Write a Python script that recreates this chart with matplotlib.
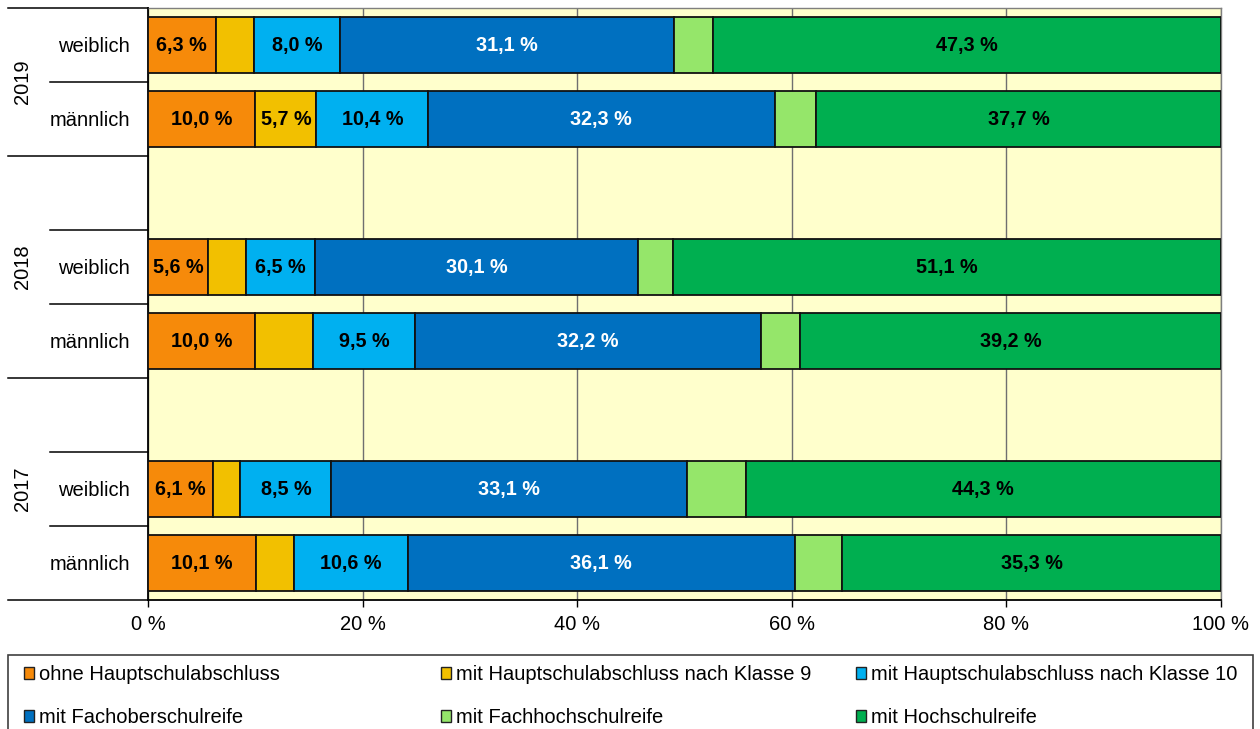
import matplotlib
matplotlib.use("Agg")
import matplotlib.pyplot as plt
import matplotlib.transforms as mtransforms
from matplotlib.patches import Patch, Rectangle
import numpy as np

plt.rcParams['font.family'] = ['Liberation Sans', 'DejaVu Sans']

# ---------------- data ----------------
rows = ["2019 weiblich", "2019 männlich", "", "2018 weiblich", "2018 männlich",
        "", "2017 weiblich", "2017 männlich"]          # top -> bottom
row_labels = ["weiblich", "männlich", "", "weiblich", "männlich", "", "weiblich", "männlich"]
years = ["2019", "2018", "2017"]

series_names = ["ohne Hauptschulabschluss",
                "mit Hauptschulabschluss nach Klasse 9",
                "mit Hauptschulabschluss nach Klasse 10",
                "mit Fachoberschulreife",
                "mit Fachhochschulreife",
                "mit Hochschulreife"]

# values per row (top -> bottom), None = empty spacer row
ohne_hs   = [6.3, 10.0, None, 5.6, 10.0, None, 6.1, 10.1]
hs_kl9    = [3.6, 5.7, None, 3.5, 5.4, None, 2.5, 3.5]
hs_kl10   = [8.0, 10.4, None, 6.5, 9.5, None, 8.5, 10.6]
fosr      = [31.1, 32.3, None, 30.1, 32.2, None, 33.1, 36.1]
fhr       = [3.7, 3.9, None, 3.2, 3.7, None, 5.5, 4.4]
hsr       = [47.3, 37.7, None, 51.1, 39.2, None, 44.3, 35.3]

series = [ohne_hs, hs_kl9, hs_kl10, fosr, fhr, hsr]
colors = ["#F68A0A", "#F2C000", "#00B0F0", "#0070C0", "#95E66A", "#00AF50"]
label_colors = ["black", "black", "black", "white", "black", "black"]
show_labels = [True, True, True, True, False, True]
label_min = 5.5

# ---------------- figure ----------------
W, H = 1260, 729
fig = plt.figure(figsize=(W / 100, H / 100), dpi=100)
L, R, T, B = 148, 1221, 8, 600
ax = fig.add_axes([L / W, 1 - B / H, (R - L) / W, (B - T) / H])
ax.set_facecolor("#FFFFCC")

n = len(rows)
ypos = np.arange(n)[::-1]  # top row has highest y
bar_h = 0.76

left = np.zeros(n)
for s, vals in enumerate(series):
    v = np.array([np.nan if x is None else x for x in vals], dtype=float)
    mask = ~np.isnan(v)
    ax.barh(ypos[mask], v[mask], left=left[mask], height=bar_h, color=colors[s],
            edgecolor="#111111", linewidth=1.3, zorder=3)
    for i in np.where(mask)[0]:
        if show_labels[s] and v[i] > label_min:
            ax.text(left[i] + v[i] / 2, ypos[i], f"{v[i]:.1f} %".replace(".", ","),
                    ha="center", va="center", fontsize=14.2, fontweight="bold",
                    color=label_colors[s], zorder=4)
    left[mask] += v[mask]

ax.set_xlim(0, 100)
ax.set_ylim(-0.5, n - 0.5)
ax.set_xticks(np.arange(0, 101, 20))
ax.set_xticklabels([f"{t} %" for t in range(0, 101, 20)], fontsize=14.5)
ax.tick_params(axis="x", direction="out", length=5, width=1, color="black", pad=6)

data_rows = [i for i, r in enumerate(rows) if r]
ax.set_yticks(ypos[data_rows])
ax.set_yticklabels([row_labels[i] for i in data_rows], fontsize=14.5)
ax.tick_params(axis="y", length=0, pad=13)

ax.grid(axis="x", color="#6f6f6f", linewidth=1, zorder=1)
ax.set_axisbelow(True)
for side in ["top", "right"]:
    ax.spines[side].set_color("#7f7f7f")
    ax.spines[side].set_linewidth(1)
ax.spines["left"].set_color("black")
ax.spines["left"].set_linewidth(1.3)
ax.spines["bottom"].set_color("black")
ax.spines["bottom"].set_linewidth(1.3)

# multi-level category separators
trans = mtransforms.blended_transform_factory(ax.transAxes, ax.transData)
long_x = (8 - L) / (R - L)
short_x = (50 - L) / (R - L)
boundaries = np.arange(-0.5, n, 1.0)
long_bounds = [n - 0.5, n - 2.5, n - 5.5, -0.5]
for b in boundaries:
    x0 = long_x if any(abs(b - lb) < 1e-6 for lb in long_bounds) else short_x
    ax.plot([x0, 0], [b, b], transform=trans, color="black", linewidth=1.1,
            clip_on=False, zorder=5)

# year labels
year_centers = [(long_bounds[0] + long_bounds[1]) / 2,
                (long_bounds[1] + long_bounds[2]) / 2,
                (long_bounds[2] + long_bounds[3]) / 2]
for yr, yc in zip(years, year_centers):
    ax.text((22 - L) / (R - L), yc, yr, transform=trans, rotation=90,
            ha="center", va="center", fontsize=14.5)

# legend frame
fig.patches.append(Rectangle((8 / W, -0.02), (1253 - 8) / W, 0.02 + 1 - 655 / H,
                             transform=fig.transFigure, fill=False,
                             edgecolor="#404040", linewidth=1.2))

handles = [Patch(facecolor=c, edgecolor="#222222", linewidth=1.0) for c in colors]
col_x = [24, 441, 856]
for c in range(3):
    idx = [c, c + 3]
    leg = fig.legend([handles[i] for i in idx], [series_names[i] for i in idx],
                     loc="upper left", bbox_to_anchor=(col_x[c] / W, 1 - 665 / H),
                     bbox_transform=fig.transFigure, frameon=False, fontsize=14.5,
                     ncol=1, borderpad=0, borderaxespad=0, handlelength=0.52,
                     handleheight=0.52, handletextpad=0.22, labelspacing=1.2)

fig.savefig("out.png", dpi=100)
